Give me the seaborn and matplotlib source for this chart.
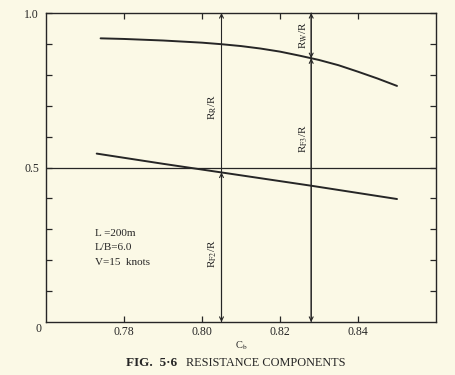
import numpy as np
import pandas as pd
import matplotlib
matplotlib.use("Agg")
import matplotlib.pyplot as plt
import seaborn as sns

# ---- data ----
cb_upper = [0.774, 0.780, 0.790, 0.800, 0.805, 0.810, 0.815, 0.820, 0.825,
            0.830, 0.835, 0.840, 0.845, 0.850]
rt_upper = [0.918, 0.916, 0.911, 0.904, 0.899, 0.893, 0.885, 0.875, 0.862,
            0.848, 0.831, 0.810, 0.788, 0.764]
cb_lower = [0.773, 0.790, 0.805, 0.828, 0.850]
rt_lower = [0.545, 0.512, 0.484, 0.441, 0.398]
arrow_x = [0.805, 0.828]
x_ticks = [0.78, 0.80, 0.82, 0.84]
x_tick_labels = ["0.78", "0.80", "0.82", "0.84"]
info_lines = ["L =200m", "L/B=6.0", "V=15  knots"]

BG = "#fbf9e6"
INK = "#262626"

sns.set_theme(style="ticks")
plt.rcParams["font.family"] = ["Liberation Serif", "DejaVu Serif"]
plt.rcParams["mathtext.fontset"] = "stix"

fig = plt.figure(figsize=(4.55, 3.75), dpi=100, facecolor=BG)
ax = fig.add_axes([46/455, 1-322/375, (436-46)/455, (322-13)/375])
ax.set_facecolor(BG)

df_u = pd.DataFrame({"Cb": cb_upper, "r": rt_upper})
df_l = pd.DataFrame({"Cb": cb_lower, "r": rt_lower})
sns.lineplot(data=df_u, x="Cb", y="r", ax=ax, color=INK, lw=1.4, sort=True)
sns.lineplot(data=df_l, x="Cb", y="r", ax=ax, color=INK, lw=1.4, sort=True)

ax.axhline(0.5, color=INK, lw=0.9)

ax.set_xlim(0.76, 0.86)
ax.set_ylim(0, 1.0)

for s in ax.spines.values():
    s.set_color(INK)
    s.set_linewidth(1.0)

ax.set_xticks(x_ticks)
ax.set_xticklabels(x_tick_labels, fontsize=8.5, color=INK)
yt = [round(0.1*i, 1) for i in range(1, 11)]
ax.set_yticks(yt)
ax.set_yticklabels(["" if v not in (0.5, 1.0) else f"{v:.1f}" for v in yt], fontsize=8.5, color=INK)
ax.tick_params(axis="both", direction="in", length=4, width=0.9, color=INK,
               top=True, right=True, pad=5)
ax.tick_params(axis="x", pad=3)
ax.text(-0.012, -0.024, "0", transform=ax.transAxes, ha="right", va="center",
        fontsize=8.5, color=INK)

ax.set_xlabel(r"C$_{\rm b}$", fontsize=7.5, color=INK, labelpad=1)
ax.set_ylabel("")

# vertical dimension arrows
aprops = dict(arrowstyle="->", color=INK, lw=0.8, shrinkA=0, shrinkB=0,
              mutation_scale=7)
xa, xb = arrow_x
ya = float(np.interp(xa, cb_lower, rt_lower))
yb = float(np.interp(xb, cb_upper, rt_upper))
ax.annotate("", xy=(xa, 1.0), xytext=(xa, ya), arrowprops=aprops)
ax.annotate("", xy=(xa, ya), xytext=(xa, 0.0), arrowprops=aprops)
ax.annotate("", xy=(xa, 0.0), xytext=(xa, ya), arrowprops=aprops)
ax.annotate("", xy=(xb, 1.0), xytext=(xb, yb), arrowprops=aprops)
ax.annotate("", xy=(xb, yb), xytext=(xb, 1.0), arrowprops=aprops)
ax.annotate("", xy=(xb, yb), xytext=(xb, 0.0), arrowprops=aprops)
ax.annotate("", xy=(xb, 0.0), xytext=(xb, yb), arrowprops=aprops)

lab_kw = dict(rotation=90, ha="center", va="center", fontsize=8, color=INK)
ax.text(xa - 0.0022, 0.695, r"R$_{\rm R}$/R", **lab_kw)
ax.text(xa - 0.0022, 0.22, r"R$_{\rm F2}$/R", **lab_kw)
ax.text(xb - 0.0019, 0.928, r"R$_{\rm W}$/R", **lab_kw)
ax.text(xb - 0.0019, 0.595, r"R$_{\rm F3}$/R", **lab_kw)

for i, t in enumerate(info_lines):
    ax.text(0.7725, 0.288 - i*0.047, t, fontsize=8, color=INK, ha="left", va="center")

ty = 1 - 363/375
fig.text(177/455, ty, "FIG.  5\u00b76", ha="right", va="center", fontsize=9.5,
         fontweight="bold", color=INK)
fig.text(186/455, ty, "RESISTANCE COMPONENTS", ha="left", va="center",
         fontsize=8.8, color=INK)

fig.savefig("out.png", dpi=100, facecolor=BG)
